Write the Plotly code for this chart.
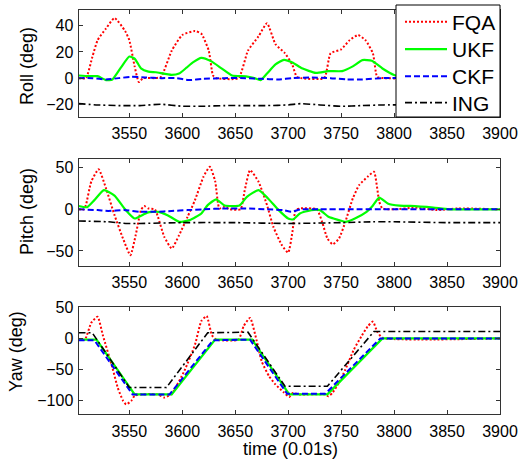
import plotly.graph_objects as go

# ---------------- data ----------------
# Roll
t_roll_fqa = [3502, 3509, 3515, 3520, 3528, 3536, 3546, 3550, 3555, 3559, 3563, 3574, 3580, 3590, 3600, 3612, 3618, 3625, 3629, 3632, 3653, 3662, 3672, 3680, 3688, 3697, 3704, 3708, 3712, 3734, 3740, 3750, 3758, 3766, 3773, 3780, 3784, 3790, 3900]
roll_fqa = [0, 0, 16, 29, 38, 46, 36, 29, 9, -3, 0, 0, 1, 21, 33, 36, 34, 21, 2, 0, 0, 21, 32, 42, 26, 19, 10, 1, 0, 0, 19, 22, 29, 33, 29, 19, 1, 0, 0]
t_roll_ukf = [3502, 3512, 3520, 3528, 3534, 3542, 3550, 3555, 3561, 3568, 3575, 3590, 3597, 3604, 3610, 3618, 3627, 3637, 3647, 3660, 3668, 3674, 3680, 3688, 3696, 3704, 3713, 3726, 3738, 3751, 3761, 3770, 3779, 3789, 3800, 3815, 3900]
roll_ukf = [2, 1.5, 1.5, -1.5, -1, 8, 16.5, 15, 7.5, 5, 4.5, 2.5, 3.5, 8, 12, 15.5, 13, 7.5, 2, 1.3, 0, -1.5, 3.5, 10.5, 14, 12, 7.5, 4, 5.4, 5.4, 9, 13.8, 13.3, 7.4, 2.4, 0, 0]
t_roll_ckf = [3502, 3515, 3528, 3540, 3552, 3565, 3580, 3595, 3606, 3620, 3640, 3660, 3675, 3690, 3705, 3720, 3740, 3755, 3770, 3790, 3900]
roll_ckf = [0, 0, -1, 0, 1, 0.5, 0, 0, -1.5, -0.5, 0, 0, -0.5, -1, 0, 0.5, 0, -1, -1, 0, 0]
t_roll_ing = [3502, 3520, 3540, 3560, 3580, 3600, 3620, 3640, 3660, 3680, 3700, 3712, 3730, 3750, 3770, 3790, 3900]
roll_ing = [-19.5, -20.5, -21, -21, -20, -21.5, -21.5, -21, -21, -21, -20.5, -19.5, -20.5, -21.5, -21, -20.5, -20.5]

# Pitch
t_pitch_fqa = [3502, 3507, 3509, 3514, 3521, 3528, 3536, 3544, 3551, 3556, 3561, 3564, 3568, 3574, 3577, 3583, 3590, 3597, 3605, 3612, 3620, 3626, 3631, 3635, 3640, 3645, 3655, 3659, 3664, 3672, 3680, 3686, 3694, 3700, 3704, 3707, 3711, 3727, 3732, 3737, 3742, 3748, 3754, 3761, 3767, 3775, 3781, 3786, 3789, 3800, 3820, 3840, 3860, 3900]
pitch_fqa = [0, 0, 5, 33, 48, 25, -7, -35, -55, -31, -1, 4, 1, 0, -9, -33, -47, -31, -9, 11, 39, 51, 34, 1, 3, 0, 0, 23, 47, 33, 5, -21, -43, -52, -27, -1, 1, 0, -15, -35, -42, -35, -15, 13, 29, 39, 45, 9, 1, 0, 2, -1, 1, 0]
t_pitch_ukf = [3502, 3510, 3517, 3526, 3536, 3546, 3555, 3567, 3577, 3586, 3597, 3607, 3618, 3624, 3632, 3640, 3654, 3661, 3672, 3681, 3691, 3700, 3705, 3711, 3722, 3730, 3738, 3748, 3754, 3763, 3774, 3779, 3786, 3794, 3805, 3815, 3837, 3852, 3900]
pitch_ukf = [4, 2.5, 11, 23, 16.5, 0, -11, -4, -3, -7, -15, -13, -5, 5, 12, 4.5, 4.5, 15, 23, 13, -1, -11, -12, -5, -1, -1, -9, -13, -15, -11, -3, 3, 14, 7, 4.3, 4, 2, 0, 0]
t_pitch_ckf = [3502, 3520, 3530, 3545, 3560, 3575, 3590, 3605, 3620, 3640, 3660, 3680, 3695, 3703, 3712, 3730, 3760, 3790, 3900]
pitch_ckf = [0, -1, -2, -1, -3, -3, -2, -1, 0, 1, 1, 0, -1, -3, 0, 0, 0, 0, 0]
t_pitch_ing = [3502, 3530, 3548, 3560, 3600, 3650, 3700, 3750, 3780, 3800, 3850, 3900]
pitch_ing = [-14, -15, -17, -17, -16, -16, -17, -16, -15, -15, -16, -16]

# Yaw
t_yaw_fqa = [3502, 3508, 3514, 3520, 3525, 3534, 3539, 3544, 3547, 3552, 3555, 3560, 3577, 3583, 3590, 3602, 3612, 3618, 3623, 3628, 3632, 3653, 3658, 3664, 3670, 3675, 3682, 3688, 3696, 3701, 3704, 3710, 3734, 3738, 3742, 3748, 3754, 3762, 3769, 3775, 3780, 3784, 3789, 3900]
yaw_fqa = [-2, -2, 25, 35, 5, -47, -79, -100, -106, -100, -92, -90, -90, -95, -89, -52, -10, 28, 36, 5, -2, -2, 20, 33, -2, -37, -61, -74, -87, -94, -88, -90, -90, -93, -87, -71, -50, -18, 3, 19, 27, 11, 1, 0]
t_yaw_ukf = [3502, 3519, 3555, 3590, 3631, 3666, 3701, 3737, 3789, 3900]
yaw_ukf = [-2, -2, -90, -90, -2, -2, -90, -90, 0, 0]
t_yaw_ckf = [3502, 3517, 3553, 3588, 3629, 3664, 3699, 3735, 3787, 3900]
yaw_ckf = [-3, -3, -90, -90, -3, -2, -89, -89, 0, 0]
t_yaw_ing = [3502, 3515, 3550, 3585, 3624, 3662, 3697, 3737, 3781, 3900]
yaw_ing = [9, 9, -79, -79, 9, 10, -77, -77, 11, 11]

series_names = ["FQA", "UKF", "CKF", "ING"]
x_ticks = [3550, 3600, 3650, 3700, 3750, 3800, 3850, 3900]
roll_ticks = [-20, 0, 20, 40]
pitch_ticks = [-50, 0, 50]
yaw_ticks = [-100, -50, 0, 50]

# ---------------- styles ----------------
styles = {
    "FQA": dict(color="#FF0000", width=2, dash="2px,2px"),
    "UKF": dict(color="#00FF00", width=2.2, dash="solid"),
    "CKF": dict(color="#0000FF", width=2, dash="6px,3px"),
    "ING": dict(color="#000000", width=1.6, dash="7px,3px,2px,3px"),
}
FONT = "Liberation Sans, Arial, sans-serif"
W, H = 521, 466
legend_ids = ["legend", "legend2", "legend3", "legend4"]
legend_y_px = [22, 49.5, 76.5, 103]

fig = go.Figure()
panels = [
    ("x", "y", [(t_roll_fqa, roll_fqa), (t_roll_ukf, roll_ukf), (t_roll_ckf, roll_ckf), (t_roll_ing, roll_ing)]),
    ("x2", "y2", [(t_pitch_fqa, pitch_fqa), (t_pitch_ukf, pitch_ukf), (t_pitch_ckf, pitch_ckf), (t_pitch_ing, pitch_ing)]),
    ("x3", "y3", [(t_yaw_fqa, yaw_fqa), (t_yaw_ukf, yaw_ukf), (t_yaw_ckf, yaw_ckf), (t_yaw_ing, yaw_ing)]),
]
for pi, (xa, ya, data) in enumerate(panels):
    for k, (name, (tt, vv)) in enumerate(zip(series_names, data)):
        shape = "linear" if pi == 2 and name != "FQA" else "spline"
        fig.add_trace(go.Scatter(
            x=tt, y=vv, mode="lines", name=name, xaxis=xa, yaxis=ya,
            line=dict(shape=shape, smoothing=0.5, **styles[name]),
            showlegend=(pi == 0), legend=legend_ids[k], legendgroup=name,
        ))

xdom = [78.5 / W, 500 / W]
ydoms = [
    [1 - 116.7 / H, 1 - 9.5 / H],
    [1 - 266 / H, 1 - 159 / H],
    [1 - 414.3 / H, 1 - 307.3 / H],
]
yranges = [[-29.5, 52.5], [-68, 60.3], [-122, 50]]
ytickss = [roll_ticks, pitch_ticks, yaw_ticks]

axis_common = dict(
    showline=True, linecolor="#333333", linewidth=1, mirror="ticks",
    ticks="inside", ticklen=4, tickcolor="#333333", showgrid=False, zeroline=False,
    automargin=False,
    tickfont=dict(family=FONT, size=16, color="black"),
)

layout = dict(
    template="none",
    width=W, height=H, autosize=False, margin=dict(l=0, r=0, t=0, b=0, pad=0),
    paper_bgcolor="white", plot_bgcolor="white",
    font=dict(family=FONT, color="black"),
    showlegend=True,
)
for k, lid in enumerate(legend_ids):
    layout[lid] = dict(
        x=400 / W, xanchor="left", y=1 - legend_y_px[k] / H, yanchor="middle",
        bgcolor="rgba(0,0,0,0)", borderwidth=0,
        font=dict(family=FONT, size=21, color="black"),
        itemwidth=42, tracegroupgap=0,
    )
for i in range(3):
    sx = "" if i == 0 else str(i + 1)
    layout["xaxis" + sx] = dict(
        domain=xdom, range=[3502, 3900], tickvals=x_ticks, anchor="y" + sx,
        ticklabelstandoff=2, **axis_common)
    layout["yaxis" + sx] = dict(
        domain=ydoms[i], range=yranges[i], tickvals=ytickss[i], anchor="x" + sx,
        ticklabelstandoff=1, **axis_common)
fig.update_layout(**layout)

# legend frame
fig.add_shape(type="rect", xref="paper", yref="paper",
              x0=396 / W, x1=500 / W, y0=1 - 117 / H, y1=1 - 5 / H,
              fillcolor="white", line=dict(color="black", width=1), layer="above")

ann_font = dict(family=FONT, size=18, color="black")
fig.add_annotation(text="Roll (deg)", x=27 / W, y=1 - 66 / H, xref="paper", yref="paper",
                   textangle=-90, showarrow=False, font=ann_font, xanchor="center", yanchor="middle")
fig.add_annotation(text="Pitch (deg)", x=27 / W, y=1 - 212 / H, xref="paper", yref="paper",
                   textangle=-90, showarrow=False, font=ann_font, xanchor="center", yanchor="middle")
fig.add_annotation(text="Yaw (deg)", x=16 / W, y=1 - 352 / H, xref="paper", yref="paper",
                   textangle=-90, showarrow=False, font=ann_font, xanchor="center", yanchor="middle")
fig.add_annotation(text="time (0.01s)", x=290 / W, y=1 - 449 / H, xref="paper", yref="paper",
                   showarrow=False, font=ann_font, xanchor="center", yanchor="middle")

fig.write_html(
    "out.html",
    config={"displayModeBar": False},
    post_script="document.body.style.margin='0px';document.body.style.overflow='hidden';",
)
